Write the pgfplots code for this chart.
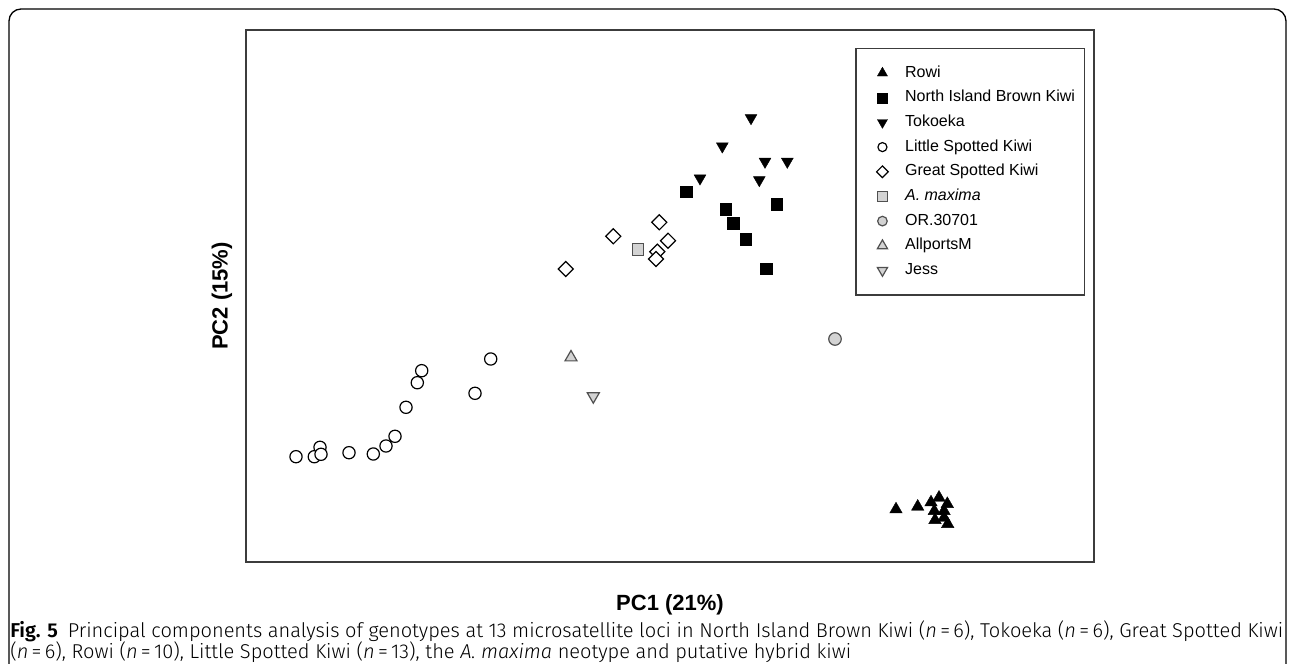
\documentclass[border=0pt]{standalone}
\usepackage{fontspec}
\setmainfont{Liberation Sans}
\newfontfamily\capfont{Fira Sans}[UprightFont=* Light, BoldFont=* SemiBold, ItalicFont=* Light Italic]
\usepackage{pgfplots}
\pgfplotsset{compat=1.18}
\definecolor{framegray}{RGB}{60,60,60}
\definecolor{markgray}{RGB}{211,211,211}
\definecolor{edgegray}{RGB}{80,80,80}
% legend image: one mark, with fixed room on both sides
\pgfplotsset{kiwileg/.style={legend image code/.code={%
    \path[draw=none, fill=none] (-15pt,0pt) rectangle (6pt,0pt);
    \draw[##1] plot coordinates {(0pt,0pt)};}}}
\newsavebox\capA
\newsavebox\capB

\begin{document}%
\sbox\capA{\capfont\fontsize{14}{16}\selectfont\textbf{Fig. 5}\enspace Principal components analysis of genotypes at 13 microsatellite loci in North Island Brown Kiwi (\textit{n}\,=\,6), Tokoeka (\textit{n}\,=\,6), Great Spotted Kiwi}%
\sbox\capB{\capfont\fontsize{14}{16}\selectfont(\textit{n}\,=\,6), Rowi (\textit{n}\,=\,10), Little Spotted Kiwi (\textit{n}\,=\,13), the \textit{A. maxima} neotype and putative hybrid kiwi}%
\pgfmathsetmacro\capscale{954.75/\wd\capA}%
\begin{tikzpicture}
% page frame, in image pixels (1 px = 0.75pt), y measured upward
\begin{scope}[x=0.75pt,y=0.75pt]
\path[use as bounding box] (0,0) rectangle (1295,662);
\draw[line width=1pt, rounded corners=9pt] (9,-2) -- (9,653) -- (1286,653) -- (1286,-2);
\end{scope}

\begin{axis}[
    at={(184.5pt,75pt)}, anchor=south west,
    width=636pt, height=399pt, scale only axis,
    xmin=246, xmax=1094, ymin=100, ymax=632,
    xtick=\empty, ytick=\empty,
    axis line style={framegray, line width=1.5pt},
    xlabel={PC1 (21\%)},
    ylabel={PC2 (15\%)},
    xlabel style={font=\fontsize{16.5}{18}\selectfont\bfseries, at={(axis description cs:0.5,-0.0800)}, anchor=center},
    ylabel style={font=\fontsize{16.5}{18}\selectfont\bfseries, at={(axis description cs:-0.0283,0.5)}, anchor=center},
    legend cell align=left,
    legend style={
        at={(axis description cs:0.7182,0.9662)},
        anchor=north west,
        draw=framegray, line width=1.1pt,
        font=\fontsize{12}{14}\selectfont,
        inner xsep=5pt, inner ysep=12.3pt,
        row sep=6.5pt,
        nodes={text height=9pt, text depth=3pt, inner ysep=0pt},
        /tikz/every odd column/.append style={column sep=9pt},
    },
]

% Rowi
\addplot[only marks, mark=triangle*, mark size=5.4pt, black, line width=0.3pt, kiwileg,
    legend image post style={mark size=4.4pt}]
coordinates {
    (896,152.6) (917.7,155.3) (931,159.6) (939,164.3) (947.3,158)
    (934.3,151) (944,151) (935,142) (944,144.3) (947.7,138)
};
\addlegendentry{Rowi}

% North Island Brown Kiwi
\addplot[only marks, mark=square*, mark size=4.4pt, black, line width=0.3pt, kiwileg,
    legend image post style={mark size=3.75pt}]
coordinates {
    (686,470.3) (725.7,452.8) (733,438.7) (745.7,422.5) (776.7,458) (766,393.3)
};
\addlegendentry{North Island Brown Kiwi}

% Tokoeka
\addplot[only marks, mark=triangle*, mark size=5.1pt, mark options={rotate=180}, black, line width=0.3pt, kiwileg,
    legend image post style={mark size=4.4pt}]
coordinates {
    (751,544) (722.3,515.7) (765,500.4) (787.3,500.4) (700,483.7) (759.3,482)
};
\addlegendentry{Tokoeka}

% Little Spotted Kiwi
\addplot[only marks, mark=*, mark size=4.6pt, mark options={draw=black, fill=white, line width=0.9pt}, kiwileg,
    legend image post style={mark size=3.4pt}]
coordinates {
    (296,205.3) (314.3,205.3) (320,214.7) (321,207.7) (349,209.3) (373.3,208) (386,216)
    (395,225.7) (406,254.7) (417.3,279.3) (421.7,291.3) (475,268.7) (490.7,303)
};
\addlegendentry{Little Spotted Kiwi}

% Great Spotted Kiwi
\addplot[only marks, mark=square*, mark size=4pt, mark options={rotate=45, draw=black, fill=white, line width=0.9pt}, kiwileg,
    legend image post style={mark size=3.1pt}]
coordinates {
    (565.7,393) (613.3,425.7) (659.3,439.7) (668,421.3) (657.3,410.3) (656,403)
};
\addlegendentry{Great Spotted Kiwi}

% A. maxima
\addplot[only marks, mark=square*, mark size=4.4pt, mark options={draw=edgegray, fill=markgray, line width=0.9pt}, kiwileg,
    legend image post style={mark size=3.6pt}]
coordinates { (638,412.7) };
\addlegendentry{\textit{A. maxima}}

% OR.30701
\addplot[only marks, mark=*, mark size=4.7pt, mark options={draw=edgegray, fill=markgray, line width=0.9pt}, kiwileg,
    legend image post style={mark size=3.6pt}]
coordinates { (835,323) };
\addlegendentry{OR.30701}

% AllportsM
\addplot[only marks, mark=triangle*, mark size=5.2pt, mark options={draw=edgegray, fill=markgray, line width=0.9pt}, kiwileg,
    legend image post style={mark size=4.4pt}]
coordinates { (571,304.6) };
\addlegendentry{AllportsM}

% Jess
\addplot[only marks, mark=triangle*, mark size=5.2pt, mark options={rotate=180, draw=edgegray, fill=markgray, line width=0.9pt}, kiwileg,
    legend image post style={mark size=4.4pt}]
coordinates { (593.3,265.7) };
\addlegendentry{Jess}

\end{axis}

\begin{scope}[x=0.75pt,y=0.75pt]
\node[anchor=base west, inner sep=0pt] at (10,25) {\scalebox{\capscale}{\usebox\capA}};
\node[anchor=base west, inner sep=0pt] at (10,3) {\scalebox{\capscale}{\usebox\capB}};
\end{scope}
\end{tikzpicture}
\end{document}
